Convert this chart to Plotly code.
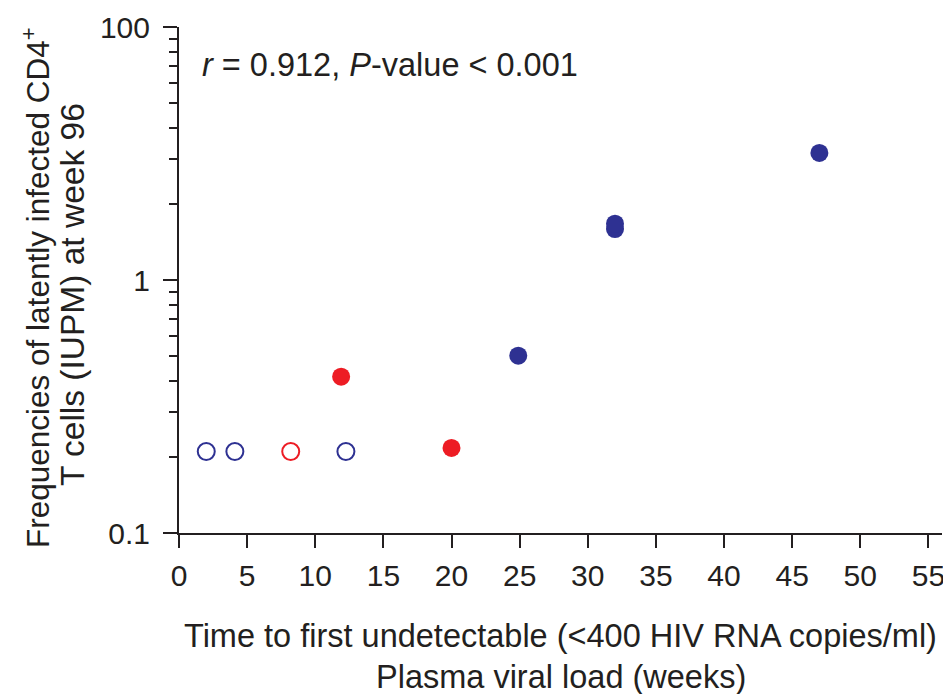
import plotly.graph_objects as go

# Data
blue_filled_x = [24.9, 32.0, 32.0, 47.0]
blue_filled_y = [0.502, 1.59, 1.67, 3.18]
red_filled_x = [11.9, 20.0]
red_filled_y = [0.415, 0.217]
blue_open_x = [2.0, 4.1, 12.25]
blue_open_y = [0.21, 0.21, 0.21]
red_open_x = [8.2]
red_open_y = [0.21]

x_ticks = [0, 5, 10, 15, 20, 25, 30, 35, 40, 45, 50, 55]
y_tickvals = [0.1, 1, 10]
y_ticktext = ["0.1", "1", "100"]
y_minor = [m * d for d in (0.1, 1) for m in range(2, 10)]

BLUE = "#2E3192"
RED = "#ED1C24"
INK = "#231F20"
FONT = "Liberation Sans, Arial, Helvetica, sans-serif"

fig = go.Figure()
fig.add_trace(go.Scatter(x=blue_open_x, y=blue_open_y, mode="markers",
                         marker=dict(symbol="circle-open", size=17, color=BLUE, line=dict(width=2, color=BLUE))))
fig.add_trace(go.Scatter(x=red_open_x, y=red_open_y, mode="markers",
                         marker=dict(symbol="circle-open", size=17, color=RED, line=dict(width=2, color=RED))))
fig.add_trace(go.Scatter(x=red_filled_x, y=red_filled_y, mode="markers",
                         marker=dict(symbol="circle", size=18, color=RED, line=dict(width=0))))
fig.add_trace(go.Scatter(x=blue_filled_x, y=blue_filled_y, mode="markers",
                         marker=dict(symbol="circle", size=18, color=BLUE, line=dict(width=0))))

fig.update_layout(
    width=943, height=686,
    margin=dict(l=171, r=9, t=19, b=161, autoexpand=False),
    paper_bgcolor="white", plot_bgcolor="white",
    showlegend=False,
    font=dict(family=FONT, size=30, color=INK),
    xaxis=dict(range=[0, 56], tickvals=x_ticks, ticks="outside", ticklen=13, tickwidth=2,
               tickcolor=INK, showline=True, linecolor=INK, linewidth=2, showgrid=False,
               zeroline=False, automargin=False, ticklabelstandoff=2,
               tickfont=dict(size=30, color=INK)),
    yaxis=dict(type="log", range=[-1, 1], tickvals=y_tickvals, ticktext=y_ticktext,
               ticks="outside", ticklen=14, tickwidth=2, tickcolor=INK,
               showline=True, linecolor=INK, linewidth=2, showgrid=False, zeroline=False,
               automargin=False, ticklabelstandoff=7, tickfont=dict(size=30, color=INK),
               minor=dict(tickmode="array", tickvals=y_minor, ticks="outside", ticklen=8,
                          tickwidth=2, tickcolor=INK, showgrid=False)),
    annotations=[
        dict(text="<i>r</i> = 0.912, <i>P</i>-value &lt; 0.001", xref="paper", yref="paper",
             x=0.0275, y=0.925, xanchor="left", yanchor="middle", showarrow=False,
             font=dict(size=32.5, color=INK)),
        dict(text="Time to first undetectable (&lt;400 HIV RNA copies/ml)",
             xref="paper", yref="paper", x=0.5, y=-0.2036, xanchor="center", yanchor="middle",
             showarrow=False, font=dict(size=32.5, color=INK)),
        dict(text="Plasma viral load (weeks)",
             xref="paper", yref="paper", x=0.5, y=-0.2846, xanchor="center", yanchor="middle",
             showarrow=False, font=dict(size=32.5, color=INK)),
        dict(text="Frequencies of latently infected CD4<sup>+</sup>",
             xref="paper", yref="paper", x=-0.1874, y=0.4842, xanchor="center", yanchor="middle",
             textangle=-90, showarrow=False, font=dict(size=31.5, color=INK)),
        dict(text="T cells (IUPM) at week 96",
             xref="paper", yref="paper", x=-0.1403, y=0.472, xanchor="center", yanchor="middle",
             textangle=-90, showarrow=False, font=dict(size=33.5, color=INK)),
    ],
)

fig.write_html("out.html")
